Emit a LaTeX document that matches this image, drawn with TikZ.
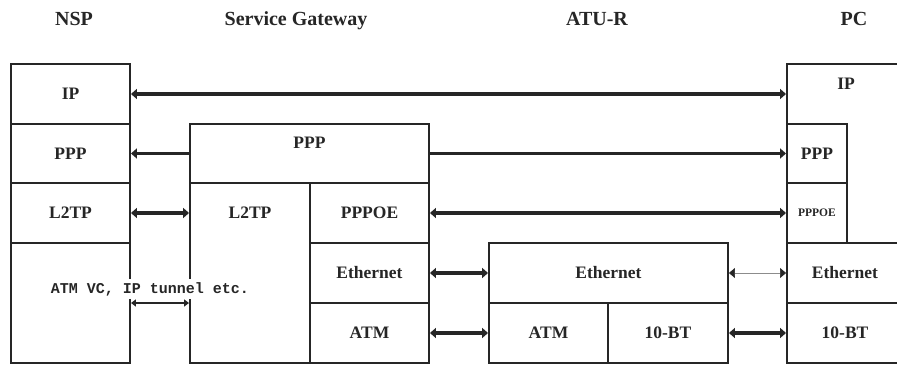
\documentclass[tikz,border=0pt]{standalone}
\usepackage{fontspec}
\setmainfont{Liberation Serif}
\setmonofont{Liberation Mono}
\usetikzlibrary{arrows.meta}
\begin{document}
\begin{tikzpicture}[x=1pt,y=-1pt,
  box/.style={draw=black!85, line width=1.9pt, inner sep=0pt, font=\fontsize{17.5}{20}\selectfont\bfseries, text=black!85},
  lbl/.style={inner sep=0pt, font=\fontsize{17.5}{20}\selectfont\bfseries, text=black!85},
  head/.style={inner sep=0pt, anchor=base, font=\fontsize{20}{22}\selectfont\bfseries, text=black!85},
  arr/.style={line width=3.2pt, draw=black!85, -{Triangle[length=6pt,width=10pt]}},
  darr/.style={line width=3.2pt, draw=black!85, {Triangle[length=6pt,width=10pt]}-{Triangle[length=6pt,width=10pt]}},
  thinarr/.style={line width=0.6pt, draw=black!45, {Triangle[length=6pt,width=10pt,color=black!85]}-{Triangle[length=6pt,width=10pt,color=black!85]}},
]
\useasboundingbox (0,0) rectangle (897,366);
% headers
\node[head] (hnsp) at (74,26) {NSP};
\node[head] (hsg) at (296,26) {Service Gateway};
\node[head] (hatu) at (597,26) {ATU-R};
\node[head] (hpc) at (854,26) {PC};
% NSP
\node[box, minimum width=119pt, minimum height=60pt] (nspip) at (70.5,94) {IP};
\node[box, minimum width=119pt, minimum height=59pt] (nspppp) at (70.5,153.5) {PPP};
\node[box, minimum width=119pt, minimum height=60pt] (nspl2tp) at (70.5,213) {L2TP};
\node[box, minimum width=119pt, minimum height=120pt] (nspatm) at (70.5,303) {};
% Service Gateway
\node[box, minimum width=239pt, minimum height=59pt] (sgppp) at (309.5,153.5) {};
\node[lbl] (sgppptxt) at (309.5,143) {PPP};
\node[box, minimum width=120pt, minimum height=180pt] (sgl2tp) at (250,273) {};
\node[lbl] (sgl2tptxt) at (250,213) {L2TP};
\node[box, minimum width=119pt, minimum height=60pt] (sgpppoe) at (369.5,213) {PPPOE};
\node[box, minimum width=119pt, minimum height=60pt] (sgeth) at (369.5,273) {Ethernet};
\node[box, minimum width=119pt, minimum height=60pt] (sgatm) at (369.5,333) {ATM};
% ATU-R
\node[box, minimum width=239pt, minimum height=60pt] (atueth) at (608.5,273) {Ethernet};
\node[box, minimum width=119pt, minimum height=60pt] (atuatm) at (548.5,333) {ATM};
\node[box, minimum width=120pt, minimum height=60pt] (atubt) at (668,333) {10-BT};
% PC
\node[box, minimum width=116pt, minimum height=299pt] (pcip) at (845,213.5) {};
\node[lbl] (pciptxt) at (846,84) {IP};
\node[box, minimum width=60pt, minimum height=59pt] (pcppp) at (817,153.5) {PPP};
\node[box, minimum width=60pt, minimum height=60pt, font=\fontsize{11.5}{13}\selectfont\bfseries] (pcpppoe) at (817,213) {PPPOE};
\node[box, minimum width=116pt, minimum height=60pt] (pceth) at (845,273) {Ethernet};
\node[box, minimum width=116pt, minimum height=60pt] (pcbt) at (845,333) {10-BT};
% connectors
\draw[darr] (nspip.east) -- (nspip.east -| pcip.west);
\draw[arr] (sgppp.west) -- (nspppp.east);
\draw[arr] (sgppp.east) -- (pcppp.west);
\draw[darr] (nspl2tp.east) -- (nspl2tp.east -| sgl2tp.west);
\draw[darr] (sgpppoe.east) -- (pcpppoe.west);
\draw[darr] (sgeth.east) -- (atueth.west);
\draw[thinarr] (atueth.east) -- (pceth.west);
\draw[darr] (sgatm.east) -- (atuatm.west);
\draw[darr] (atubt.east) -- (pcbt.west);
\draw[line width=2.2pt, draw=black!85, {Triangle[length=5pt,width=7pt]}-{Triangle[length=5pt,width=7pt]}] (nspatm.east) -- (nspatm.east -| sgl2tp.west);
\node[fill=white, inner xsep=1pt, inner ysep=3pt, font=\ttfamily\bfseries\fontsize{15}{17}\selectfont, text=black!85] (tunnel) at (150,289) {ATM VC, IP tunnel etc.};
\end{tikzpicture}
\end{document}
